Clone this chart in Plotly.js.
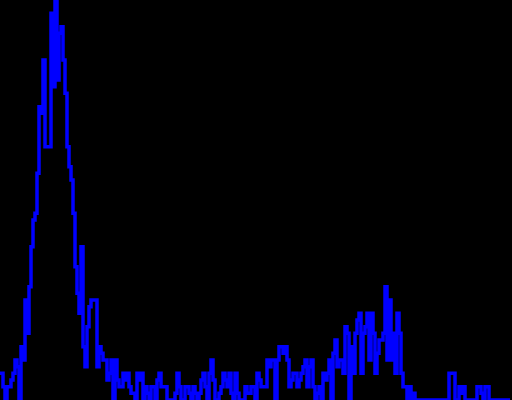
<!DOCTYPE html>
<html>
<head>
<meta charset="utf-8">
<script src="https://cdn.plot.ly/plotly-3.0.1.min.js"></script>
<style>
  html, body { margin: 0; padding: 0; background: #000; overflow: hidden; }
  #chart { width: 512px; height: 400px; }
</style>
</head>
<body>
<div id="chart"></div>
<script>
// Bin index (channel) and counts per channel
const counts = [
  4,4,2,0,2,2,3,4,6,5,0,8,6,15,10,17,
  23,27,28,34,44,43,51,38,38,38,58,47,60,48,55,56,
  51,46,38,35,33,28,20,16,13,23,8,5,11,14,15,15,
  15,5,8,7,6,6,3,4,6,0,6,3,2,2,4,3,
  4,2,1,1,0,4,3,4,0,2,1,0,2,2,0,3,
  4,2,2,2,0,0,0,0,1,4,2,0,0,2,2,1,
  0,2,1,0,1,3,4,2,0,4,6,3,0,0,1,2,
  4,3,2,4,1,0,4,1,0,0,0,2,1,1,2,2,
  0,4,3,2,2,2,6,5,6,6,0,6,8,8,7,8,
  6,2,3,4,4,2,3,4,5,6,2,5,6,2,0,1,
  2,0,4,3,4,6,0,7,9,5,6,6,4,11,10,0,
  8,4,10,12,13,4,10,11,13,6,13,10,4,7,9,9,
  10,17,6,15,6,10,4,13,10,4,2,2,0,2,0,1,
  0,0,0,0,0,0,0,0,0,0,0,0,0,0,0,0,
  0,4,4,4,0,0,2,1,2,0,0,0,0,0,0,2,
  2,1,0,2,2,0,0,0,0,0,0,0,0,0,0,0
];
const channels = counts.map((_, i) => i);

const xRange = [0, 256];
const yRange = [0, 60];

const trace = {
  x: channels,
  y: counts,
  type: 'scatter',
  mode: 'lines',
  line: { color: '#0000ff', width: 3.5, shape: 'hvh' },
  hoverinfo: 'skip'
};

const layout = {
  width: 512,
  height: 400,
  margin: { l: 0, r: 0, t: 0, b: 0, pad: 0 },
  paper_bgcolor: '#000000',
  plot_bgcolor: '#000000',
  showlegend: false,
  xaxis: { range: xRange, visible: false, showgrid: false, zeroline: false, fixedrange: true },
  yaxis: { range: yRange, visible: false, showgrid: false, zeroline: false, fixedrange: true }
};

Plotly.newPlot('chart', [trace], layout, { displayModeBar: false, staticPlot: true });
</script>
</body>
</html>
